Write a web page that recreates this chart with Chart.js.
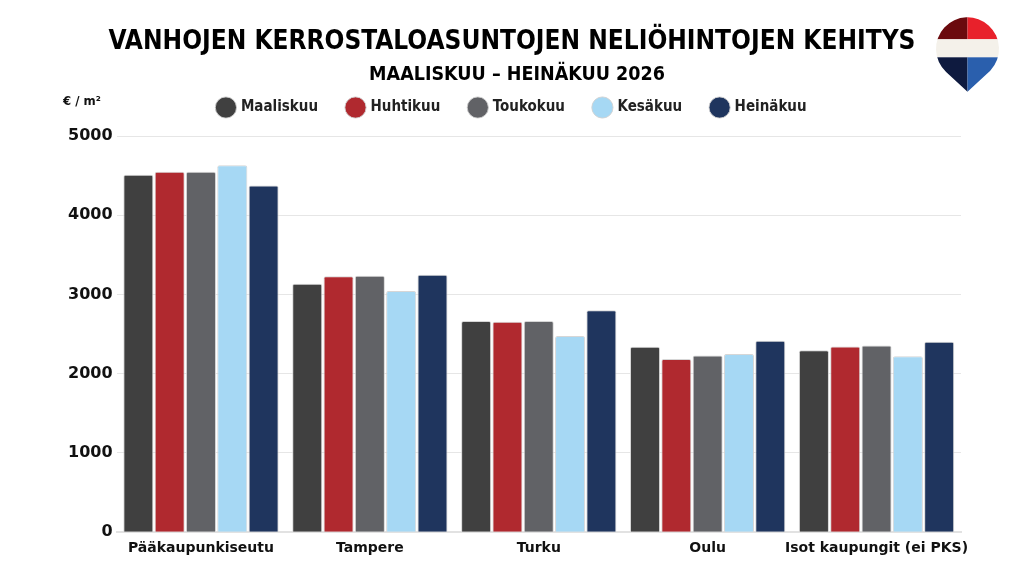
<!DOCTYPE html>
<html>
<head>
<meta charset="utf-8">
<script src="https://cdn.jsdelivr.net/npm/chart.js@4/dist/chart.umd.min.js"></script>
<style>
  html, body { margin: 0; padding: 0; background: #fff; }
  #wrap { width: 1024px; height: 576px; }
</style>
</head>
<body>
<div id="wrap"><canvas id="myChart" width="1024" height="576"></canvas></div>
<script>
const cities = ["Pääkaupunkiseutu", "Tampere", "Turku", "Oulu", "Isot kaupungit (ei PKS)"];
const months = ["Maaliskuu", "Huhtikuu", "Toukokuu", "Kesäkuu", "Heinäkuu"];
const maaliskuu = [4510, 3135, 2665, 2340, 2295];
const huhtikuu = [4550, 3230, 2655, 2185, 2345];
const toukokuu = [4550, 3235, 2665, 2230, 2355];
const kesakuu = [4630, 3045, 2475, 2250, 2220];
const heinakuu = [4375, 3250, 2800, 2415, 2405];
const monthColors = ["#404040", "#B0292F", "#616266", "#A6D8F4", "#1F355E"];
const yTicks = [0, 1000, 2000, 3000, 4000, 5000];

const titleText = "VANHOJEN KERROSTALOASUNTOJEN NELIÖHINTOJEN KEHITYS";
const subtitleText = "MAALISKUU – HEINÄKUU 2026";
const unitText = "€ / m²";

const seriesValues = [maaliskuu, huhtikuu, toukokuu, kesakuu, heinakuu];

const FONT = "'DejaVu Sans', 'Open Sans', sans-serif";
const COND = "'DejaVu Sans Condensed', 'Liberation Sans Narrow', 'DejaVu Sans', sans-serif";

// titles, unit label and the balloon logo
const decorPlugin = {
  id: "decor",
  afterDraw(chart) {
    const ctx = chart.ctx;
    ctx.save();
    ctx.fillStyle = "#000";
    ctx.textAlign = "center";
    ctx.textBaseline = "middle";
    ctx.font = "bold 26px " + COND;
    ctx.fillText(titleText, 512, 42);
    ctx.font = "bold 19.5px " + COND;
    ctx.fillText(subtitleText, 517, 75);

    ctx.font = "bold 13px " + COND;
    ctx.fillStyle = "#111";
    ctx.textAlign = "left";
    ctx.fillText(unitText, 63, 102);

    const cx = 967.5, cy = 48.8, r = 31.5, tipY = 91.7;
    const a = Math.acos(r / (tipY - cy));
    ctx.beginPath();
    ctx.arc(cx, cy, r, Math.PI / 2 + a, Math.PI * 2.5 - a);
    ctx.lineTo(cx, tipY);
    ctx.closePath();
    ctx.clip();
    const bandTop = 39.3, bandBot = 57.3;
    ctx.fillStyle = "#6B0A0E"; ctx.fillRect(cx - 40, cy - 40, 40, bandTop - cy + 40);
    ctx.fillStyle = "#E8212B"; ctx.fillRect(cx, cy - 40, 40, bandTop - cy + 40);
    ctx.fillStyle = "#F4F1EA"; ctx.fillRect(cx - 40, bandTop, 80, bandBot - bandTop);
    ctx.fillStyle = "#0E1A3F"; ctx.fillRect(cx - 40, bandBot, 40, 50);
    ctx.fillStyle = "#2A5FAD"; ctx.fillRect(cx, bandBot, 40, 50);
    ctx.restore();
  }
};

const ctx = document.getElementById("myChart").getContext("2d");
new Chart(ctx, {
  type: "bar",
  data: {
    labels: cities,
    datasets: months.map((m, i) => ({
      label: m,
      data: seriesValues[i],
      backgroundColor: monthColors[i],
      borderColor: "rgba(210,210,210,0.9)",
      borderWidth: 1,
      borderRadius: 2,
      borderSkipped: "bottom",
      categoryPercentage: 0.927,
      barPercentage: 0.96,
    })),
  },
  options: {
    responsive: false,
    animation: false,
    layout: { padding: { top: 70, left: 64, right: 63, bottom: 19 } },
    plugins: {
      legend: {
        display: true,
        position: "top",
        labels: {
          usePointStyle: true,
          pointStyle: "circle",
          boxWidth: 15,
          boxHeight: 15,
          padding: 30,
          color: "#222",
          font: { family: COND, size: 15, weight: "bold" },
        },
      },
      tooltip: { enabled: false },
    },
    scales: {
      // empty top axis, only keeps a gap between the legend and the plot
      spacer: {
        type: "category",
        position: "top",
        display: true,
        grid: { display: false },
        border: { display: false },
        ticks: { display: false },
        afterFit: (scale) => { scale.height = 11; },
      },
      x: {
        grid: { display: false },
        border: { color: "#e2e2e2", width: 2 },
        ticks: {
          color: "#111",
          padding: 0,
          maxRotation: 0,
          autoSkip: false,
          font: { family: FONT, size: 14, weight: "bold" },
        },
      },
      y: {
        min: 0,
        max: 5000,
        afterBuildTicks: (axis) => { axis.ticks = yTicks.map((v) => ({ value: v })); },
        grid: { color: "#e6e6e6", drawTicks: false },
        border: { display: false },
        ticks: {
          color: "#111",
          padding: 4,
          font: { family: FONT, size: 16, weight: "bold" },
          callback: (v) => String(v),
        },
      },
    },
  },
  plugins: [decorPlugin],
});
</script>
</body>
</html>
